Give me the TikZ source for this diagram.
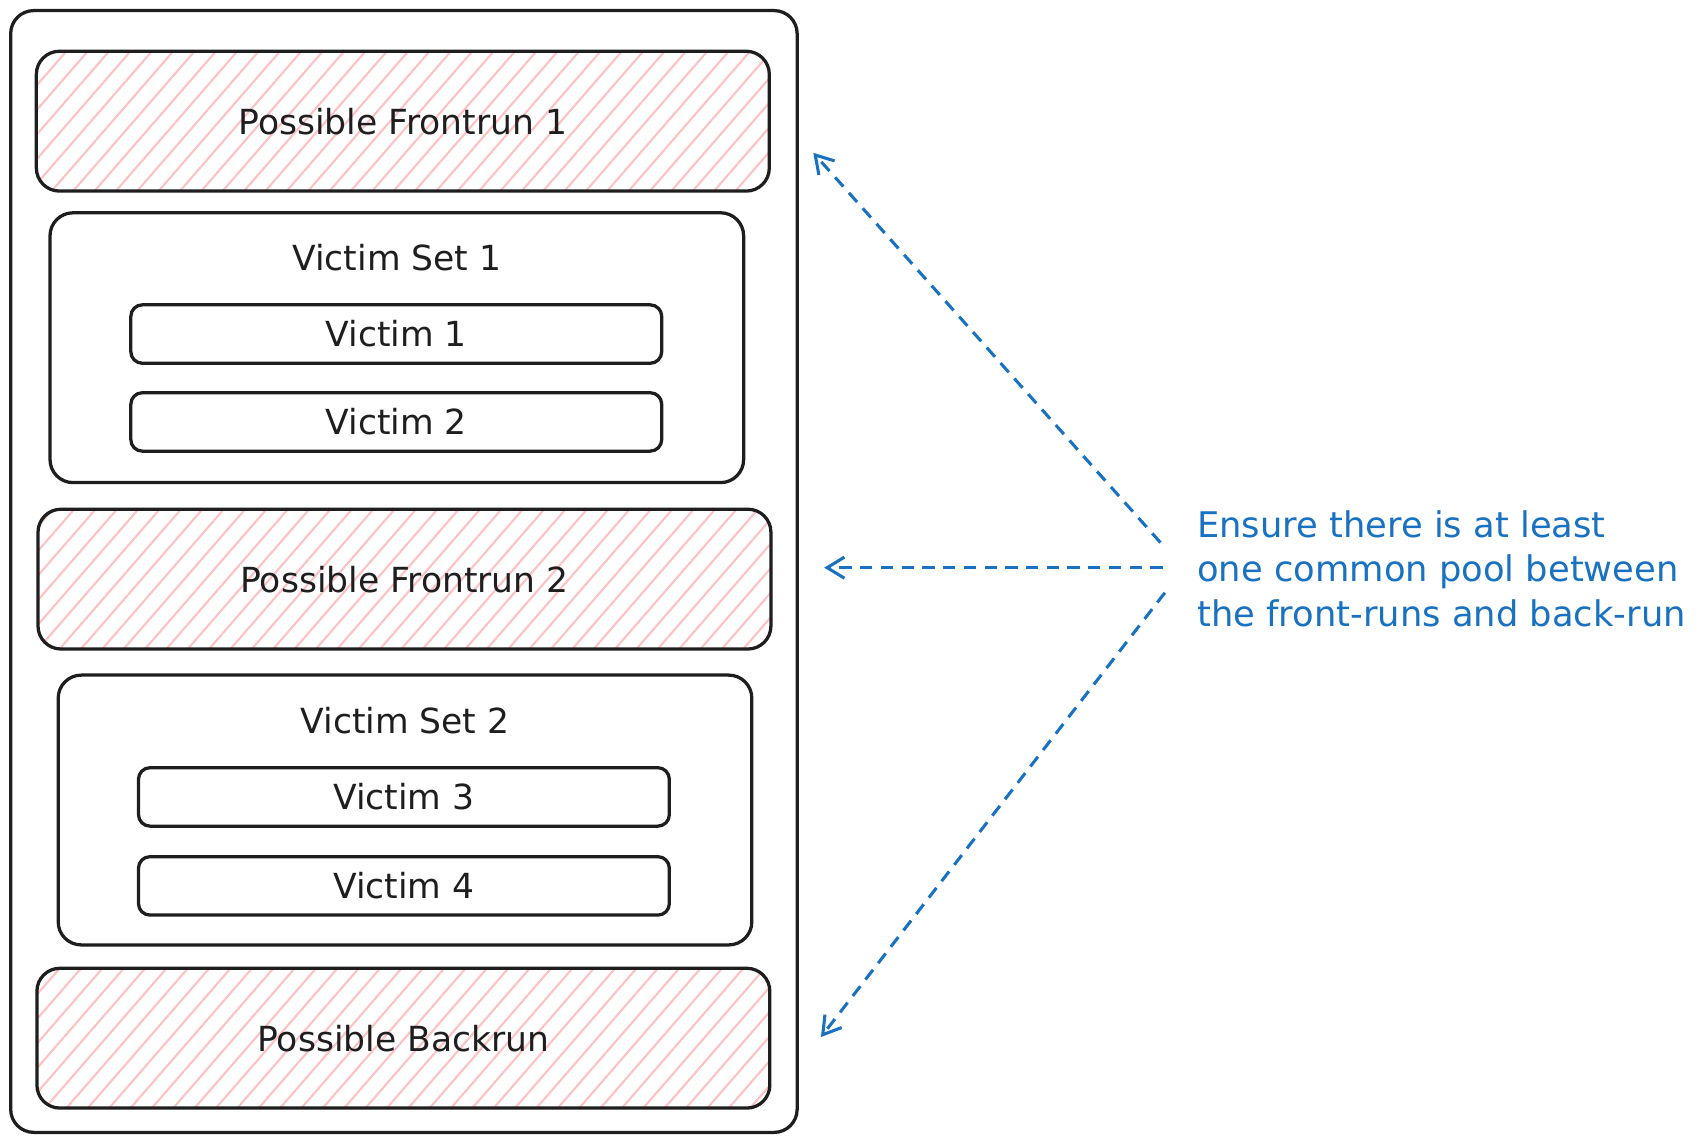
\documentclass[tikz,border=0pt]{standalone}
\usepackage{fontspec}
\setmainfont{DejaVu Sans}
\usetikzlibrary{arrows.meta, positioning, calc, patterns.meta}
\definecolor{ink}{HTML}{1E1E1E}
\definecolor{hintblue}{HTML}{1971C2}
\definecolor{hatch}{HTML}{FFC2C2}

\begin{document}
\begin{tikzpicture}[
    x=0.01cm, y=-0.01cm,
    box/.style={
        rectangle, rounded corners=6pt,
        draw=ink, line width=0.85pt,
        inner sep=0pt, text=ink,
        font=\fontsize{9}{11}\selectfont
    },
    run/.style={
        box, minimum width=6.71cm, minimum height=1.28cm,
        pattern={Lines[angle=49, distance=4.2pt, line width=0.55pt]},
        pattern color=hatch
    },
    victimset/.style={
        box, minimum width=6.35cm, minimum height=2.47cm
    },
    victim/.style={
        box, rounded corners=3pt,
        minimum width=4.86cm, minimum height=0.535cm
    },
    settitle/.style={
        inner sep=0pt, text=ink,
        font=\fontsize{9}{11}\selectfont
    },
    arrow/.style={
        -{Straight Barb[length=4.5pt, width=5.5pt, line width=0.8pt]},
        draw=hintblue, line width=0.8pt,
        dash pattern=on 3.2pt off 2.2pt
    }
]
\useasboundingbox (0,0) rectangle (1560,1040);

% Container
\node[box, minimum width=7.2cm, minimum height=10.27cm] (block) at (370, 523.5) {};

% Runs and victim sets
\node[run] (front1) at (369, 111) {Possible Frontrun 1};
\node[victimset] (set1) at (363.5, 318.5) {};
\node[settitle, below=0.3cm of set1.north] (set1title) {Victim Set 1};
\node[victim] (victim1) at (363, 306) {Victim 1};
\node[victim] (victim2) at (363, 386.5) {Victim 2};

\node[run] (front2) at (370.5, 530.5) {Possible Frontrun 2};
\node[victimset] (set2) at (371, 742) {};
\node[settitle, below=0.3cm of set2.north] (set2title) {Victim Set 2};
\node[victim] (victim3) at (370, 730) {Victim 3};
\node[victim] (victim4) at (370, 811.5) {Victim 4};

\node[run] (back) at (369.5, 951) {Possible Backrun};

% Note
\node[anchor=west, inner sep=0pt, align=left, text=hintblue,
      font=\fontsize{9.2}{11.7}\selectfont] (note) at (1096, 521)
    {Ensure there is at least\\one common pool between\\the front-runs and back-run};

% Arrow tips
\coordinate (tipfront1) at (745, 140);
\coordinate (tipfront2) at (755, 520);
\coordinate (tipback) at (752, 950);

\draw[arrow] ($(note.west)+(-33,-24)$) -- (tipfront1);
\draw[arrow] ($(note.west)+(-31,-1)$) -- (tipfront2);
\draw[arrow] ($(note.west)+(-29,22)$) -- (tipback);

\end{tikzpicture}
\end{document}
